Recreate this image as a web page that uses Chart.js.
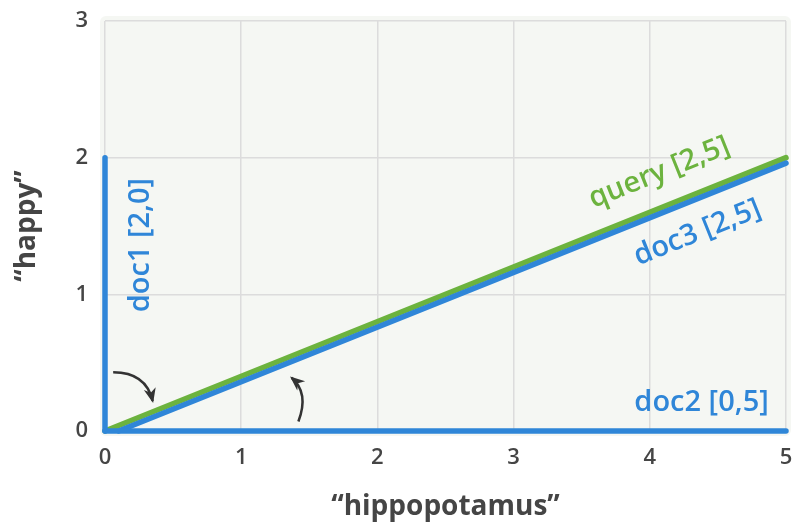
<!DOCTYPE html>
<html>
<head>
<meta charset="utf-8">
<script src="https://cdn.jsdelivr.net/npm/chart.js@4"></script>
<style>
  html, body { margin: 0; padding: 0; background: #ffffff; }
  #wrap { width: 796px; height: 527px; }
</style>
</head>
<body>
<div id="wrap"><canvas id="vecChart" width="796" height="527"></canvas></div>
<script>
// ----------------------------
// data
// ----------------------------

const xTicks = [0, 1, 2, 3, 4, 5];
const yTicks = [0, 1, 2, 3];

const doc1X = [0, 0];
const doc1Y = [0, 2];
const doc2X = [0, 5];
const doc2Y = [0, 0];
const doc3X = [0.1, 5];
const doc3Y = [0, 1.96];
const queryX = [0, 5];
const queryY = [0, 2];

const xTitle = "\u201chippopotamus\u201d";
const yTitle = "\u201chappy\u201d";

// label text, anchor (data units), angle follows the line
const labelText = ["doc1 [2,0]", "doc2 [0,5]", "doc3 [2,5]", "query [2,5]"];
const labelX = [0.26, 4.38, 4.35, 4.07];
const labelY = [1.36, 0.21, 1.45, 1.89];

// curved arrows: start, control, tip (data units)
const arrowStart = [[0.06, 0.43], [1.42, 0.07]];
const arrowCtrl = [[0.3, 0.43], [1.5, 0.28]];
const arrowTip = [[0.35, 0.22], [1.37, 0.39]];

const BLUE = "#2f86d8";
const GREEN = "#6cb33e";
const INK = "#454545";
const FONT = "'Open Sans', 'DejaVu Sans', sans-serif";

const pts = (xs, ys) => xs.map((x, i) => ({ x: x, y: ys[i] }));

// fixed axis box, no automatic label padding
const fixBox = (w, h) => (s) => {
  if (w) s.width = w;
  if (h) s.height = h;
  s.paddingTop = 0;
  s.paddingBottom = 0;
  s.paddingLeft = 0;
  s.paddingRight = 0;
};

// ----------------------------
// plugins
// ----------------------------

const plotBg = {
  id: "plotBg",
  beforeDraw(chart) {
    const { ctx, chartArea: a } = chart;
    ctx.save();
    ctx.fillStyle = "#f5f7f3";
    ctx.beginPath();
    ctx.roundRect(a.left - 5, a.top - 5, a.right - a.left + 10, a.bottom - a.top + 10, 6);
    ctx.fill();
    ctx.restore();
  }
};

const annotations = {
  id: "annotations",
  afterDatasetsDraw(chart) {
    const { ctx, scales: { x, y } } = chart;
    const slope = -Math.atan2(
      y.getPixelForValue(2) - y.getPixelForValue(0),
      x.getPixelForValue(5) - x.getPixelForValue(0)
    );
    const angles = [-Math.PI / 2, 0, -slope, -slope];
    const colors = [BLUE, BLUE, BLUE, GREEN];

    ctx.save();
    ctx.font = "600 29px " + FONT;
    ctx.textAlign = "center";
    ctx.textBaseline = "middle";
    labelText.forEach((t, i) => {
      ctx.save();
      ctx.translate(x.getPixelForValue(labelX[i]), y.getPixelForValue(labelY[i]));
      ctx.rotate(angles[i]);
      ctx.fillStyle = colors[i];
      ctx.fillText(t, 0, 0);
      ctx.restore();
    });

    // arrows
    ctx.strokeStyle = "#333333";
    ctx.fillStyle = "#333333";
    ctx.lineWidth = 2.5;
    arrowStart.forEach((s, i) => {
      const sx = x.getPixelForValue(s[0]), sy = y.getPixelForValue(s[1]);
      const cx = x.getPixelForValue(arrowCtrl[i][0]), cy = y.getPixelForValue(arrowCtrl[i][1]);
      const tx = x.getPixelForValue(arrowTip[i][0]), ty = y.getPixelForValue(arrowTip[i][1]);
      ctx.beginPath();
      ctx.moveTo(sx, sy);
      ctx.quadraticCurveTo(cx, cy, tx, ty);
      ctx.stroke();
      const ang = Math.atan2(ty - cy, tx - cx);
      const len = 14;
      ctx.beginPath();
      ctx.moveTo(tx + 2 * Math.cos(ang), ty + 2 * Math.sin(ang));
      ctx.lineTo(tx - len * Math.cos(ang - 0.45), ty - len * Math.sin(ang - 0.45));
      ctx.lineTo(tx - len * 0.6 * Math.cos(ang), ty - len * 0.6 * Math.sin(ang));
      ctx.lineTo(tx - len * Math.cos(ang + 0.45), ty - len * Math.sin(ang + 0.45));
      ctx.closePath();
      ctx.fill();
    });
    ctx.restore();
  }
};

// ----------------------------
// chart
// ----------------------------

const lineStyle = (color) => ({
  borderColor: color,
  backgroundColor: color,
  borderWidth: 5.5,
  borderCapStyle: "round",
  showLine: true,
  pointRadius: 0,
  fill: false,
  clip: 10
});

new Chart(document.getElementById("vecChart"), {
  type: "scatter",
  data: {
    datasets: [
      { label: "doc1", data: pts(doc1X, doc1Y), ...lineStyle(BLUE) },
      { label: "doc2", data: pts(doc2X, doc2Y), ...lineStyle(BLUE) },
      { label: "doc3", data: pts(doc3X, doc3Y), ...lineStyle(BLUE) },
      { label: "query", data: pts(queryX, queryY), ...lineStyle(GREEN) }
    ]
  },
  options: {
    responsive: false,
    animation: false,
    layout: { padding: { top: 21, right: 10, left: 0, bottom: 0 } },
    plugins: {
      legend: { display: false },
      tooltip: { enabled: false }
    },
    scales: {
      x: {
        type: "linear",
        min: 0,
        max: 5,
        afterBuildTicks: (s) => { s.ticks = xTicks.map(v => ({ value: v })); },
        afterFit: fixBox(0, 96),
        grid: { color: "#dcdcdc", lineWidth: 1.5, drawTicks: false },
        border: { display: false },
        ticks: { color: INK, padding: 14, font: { family: FONT, size: 22, weight: "600" } },
        title: {
          display: true,
          text: xTitle,
          color: INK,
          padding: { top: 0, bottom: 3 },
          font: { family: FONT, size: 28, weight: "700" }
        }
      },
      y: {
        type: "linear",
        min: 0,
        max: 3,
        afterBuildTicks: (s) => { s.ticks = yTicks.map(v => ({ value: v })); },
        afterFit: fixBox(105, 0),
        grid: { color: "#dcdcdc", lineWidth: 1.5, drawTicks: false },
        border: { display: false },
        ticks: { color: INK, padding: 17, font: { family: FONT, size: 22, weight: "600" } },
        title: {
          display: true,
          text: yTitle,
          color: INK,
          padding: { top: 10, bottom: 0 },
          font: { family: FONT, size: 28, weight: "700" }
        }
      }
    }
  },
  plugins: [plotBg, annotations]
});
</script>
</body>
</html>
